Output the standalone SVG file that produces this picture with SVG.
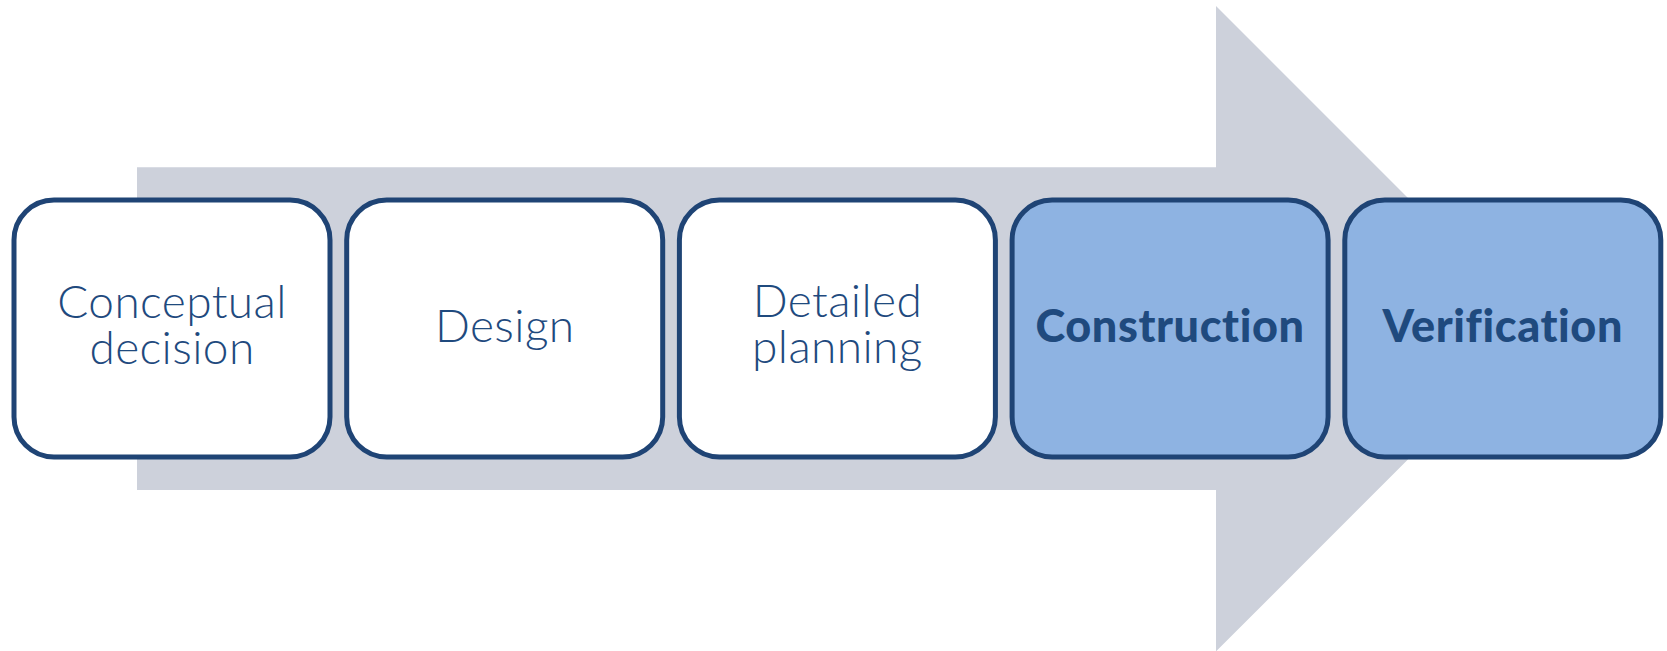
<svg xmlns="http://www.w3.org/2000/svg" width="1667" height="651" viewBox="0 0 1667 651">
<style>
.box{stroke:#1F4475;stroke-width:5;}
.light{fill:#FFFFFF;}
.dark{fill:#8EB3E2;}
.t{font-family:Lato,"Liberation Sans",sans-serif;fill:#1F4A7E;text-anchor:middle;}
.tl{font-size:46px;font-weight:300;letter-spacing:0.4px;}
.tb{font-size:45px;font-weight:900;letter-spacing:0.6px;}
</style>
<rect width="1667" height="651" fill="#FFFFFF"/>
<g id="arrow">
<path d="M137 167.3 H1216 V6 L1538.7 328.7 L1216 651.4 V490 H137 Z" fill="#CDD1DB"/>
</g>
<g id="connectors"></g>
<g id="n1">
<rect class="box light" x="14" y="200" width="316" height="257" rx="40"/>
<text class="t tl" x="172" y="318">Conceptual</text>
<text class="t tl" x="172" y="364">decision</text>
</g>
<g id="n2">
<rect class="box light" x="346.7" y="200" width="316" height="257" rx="40"/>
<text class="t tl" x="504.7" y="341.7">Design</text>
</g>
<g id="n3">
<rect class="box light" x="679.4" y="200" width="316" height="257" rx="40"/>
<text class="t tl" x="837.4" y="316.7">Detailed</text>
<text class="t tl" x="837.4" y="362.7">planning</text>
</g>
<g id="n4">
<rect class="box dark" x="1012.1" y="200" width="316" height="257" rx="40"/>
<text class="t tb" x="1170.1" y="341.7">Construction</text>
</g>
<g id="n5">
<rect class="box dark" x="1344.8" y="200" width="316" height="257" rx="40"/>
<text class="t tb" x="1502.8" y="341.7">Verification</text>
</g>
</svg>
